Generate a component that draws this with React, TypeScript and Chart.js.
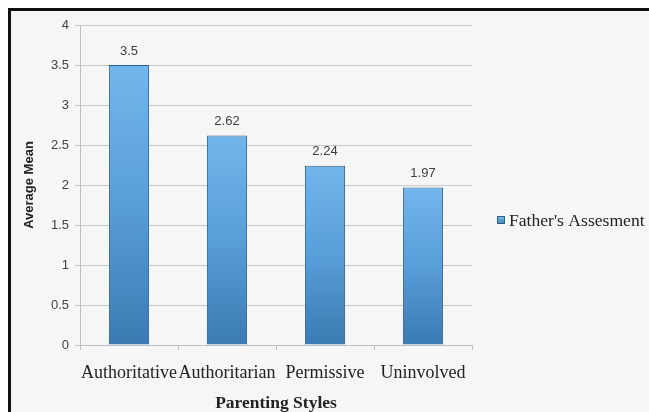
import React, { useEffect, useRef } from "react";
import { Chart, registerables } from "chart.js";

Chart.register(...registerables);

const categories = ["Authoritative", "Authoritarian", "Permissive", "Uninvolved"];
const fatherValues = [3.5, 2.62, 2.24, 1.97];
const seriesLabel = "Father's Assesment";
const xTitle = "Parenting Styles";
const yTitle = "Average Mean";

const W = 649;
const H = 412;

const framePlugin = {
  id: "frame",
  beforeDraw(chart: any) {
    const ctx = chart.ctx;
    ctx.save();
    ctx.fillStyle = "#ffffff";
    ctx.fillRect(0, 0, W, H);
    ctx.fillStyle = "#f6f6f6";
    ctx.fillRect(8, 8, W - 8, H - 8);
    ctx.fillStyle = "#111111";
    ctx.fillRect(8, 8, W - 8, 3);
    ctx.fillRect(8, 8, 3, H - 8);
    ctx.restore();
  },
};

const valueLabelPlugin = {
  id: "valueLabels",
  afterDatasetsDraw(chart: any) {
    const ctx = chart.ctx;
    ctx.save();
    ctx.font = "13px 'Liberation Sans', Arial, sans-serif";
    ctx.fillStyle = "#404040";
    ctx.textAlign = "center";
    ctx.textBaseline = "middle";
    chart.data.datasets.forEach((ds: any, di: number) => {
      const meta = chart.getDatasetMeta(di);
      meta.data.forEach((bar: any, i: number) => {
        ctx.fillText(String(ds.data[i]), bar.x, bar.y - 14);
      });
    });
    ctx.restore();
  },
};

const sideLegendPlugin = {
  id: "sideLegend",
  afterDraw(chart: any) {
    const ctx = chart.ctx;
    const area = chart.chartArea;
    const ds = chart.data.datasets[0];
    const bx = area.right + 25;
    const cy = (area.top + area.bottom) / 2 + 35;
    ctx.save();
    const g = ctx.createLinearGradient(0, cy - 4, 0, cy + 4);
    g.addColorStop(0, "#7dbbea");
    g.addColorStop(1, "#3f7fb5");
    ctx.fillStyle = g;
    ctx.fillRect(bx, cy - 4, 8, 8);
    ctx.strokeStyle = "#2e5f8c";
    ctx.lineWidth = 1;
    ctx.strokeRect(bx + 0.5, cy - 3.5, 7, 7);
    ctx.font = "17.6px 'Liberation Serif', 'Times New Roman', serif";
    ctx.fillStyle = "#222222";
    ctx.textAlign = "left";
    ctx.textBaseline = "middle";
    ctx.fillText(ds.label, bx + 12, cy + 1);
    ctx.restore();
  },
};

export default function App() {
  const ref = useRef<HTMLCanvasElement | null>(null);

  useEffect(() => {
    if (!ref.current) return;
    const chart = new Chart(ref.current, {
      type: "bar",
      data: {
        labels: categories,
        datasets: [
          {
            label: seriesLabel,
            data: fatherValues,
            backgroundColor: (context: any) => {
              const c = context.chart;
              const yScale = c.scales && c.scales.y;
              if (!yScale || !context.parsed) return "#5a9bd5";
              const top = yScale.getPixelForValue(context.parsed.y);
              const bottom = yScale.getPixelForValue(0);
              if (!isFinite(top) || !isFinite(bottom) || top === bottom) return "#5a9bd5";
              const g = c.ctx.createLinearGradient(0, top, 0, bottom);
              g.addColorStop(0, "#72b6ec");
              g.addColorStop(0.5, "#589ed8");
              g.addColorStop(1, "#3b7ab2");
              return g;
            },
            borderColor: "#2f618e",
            borderWidth: 1,
            categoryPercentage: 1,
            barPercentage: 0.41,
          },
        ],
      },
      options: {
        responsive: false,
        animation: false,
        layout: { padding: { top: 25, right: 177, bottom: 0, left: 0 } },
        plugins: {
          legend: { display: false },
          tooltip: { enabled: false },
        },
        scales: {
          x: {
            afterFit: (s: any) => {
              s.height = 67;
            },
            grid: {
              display: true,
              drawOnChartArea: false,
              drawTicks: true,
              tickLength: 5,
              color: "#bfbfbf",
              offset: true,
            },
            border: { display: true, color: "#bfbfbf" },
            ticks: {
              padding: 12,
              color: "#222222",
              font: { family: "'Liberation Serif', 'Times New Roman', serif", size: 18 },
              maxRotation: 0,
              autoSkip: false,
            },
            title: {
              display: true,
              text: xTitle,
              color: "#222222",
              padding: { top: 0, bottom: -2 },
              font: { family: "'Liberation Serif', 'Times New Roman', serif", size: 17.5, weight: "bold" },
            },
          },
          y: {
            min: 0,
            max: 4,
            afterFit: (s: any) => {
              s.width = 80;
            },
            grid: {
              color: "#c8c8c8",
              drawTicks: true,
              tickLength: 5,
            },
            border: { display: true, color: "#bfbfbf" },
            ticks: {
              stepSize: 0.5,
              padding: 6,
              color: "#404040",
              font: { family: "'Liberation Sans', Arial, sans-serif", size: 13 },
              callback: (v: any) => String(Number(v)),
            },
            title: {
              display: true,
              text: yTitle,
              color: "#222222",
              padding: { top: 22, bottom: 0 },
              font: { family: "'Liberation Sans', Arial, sans-serif", size: 13, weight: "bold" },
            },
          },
        },
      },
      plugins: [framePlugin, valueLabelPlugin, sideLegendPlugin],
    });
    return () => chart.destroy();
  }, []);

  return (
    <div style={{ position: "fixed", left: 0, top: 0, width: W, height: H }}>
      <canvas ref={ref} width={W} height={H} style={{ width: W, height: H, display: "block" }} />
    </div>
  );
}
